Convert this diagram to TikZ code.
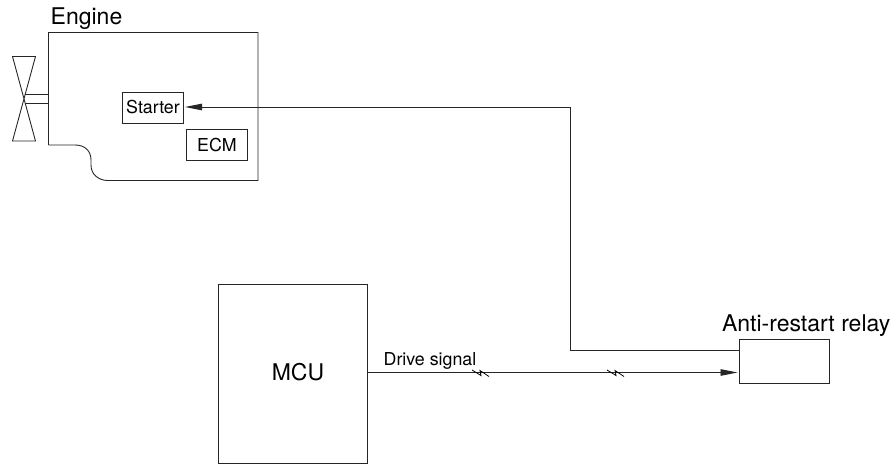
\documentclass[tikz,border=0pt]{standalone}
\usepackage{fontspec}
\setmainfont{TeX Gyre Heros}
\usetikzlibrary{arrows.meta}
\tikzset{
  ln/.style={draw=black!85,line width=0.9pt},
  box/.style={ln,anchor=north west,inner sep=0pt,outer sep=0pt},
  big/.style={font=\fontsize{23}{23}\selectfont,inner sep=0pt},
  small/.style={font=\fontsize{17.8}{18}\selectfont,inner sep=0pt},
  head/.style={-{Triangle[length=17pt,width=6.5pt]},shorten >=1.5pt}
}
\begin{document}
\begin{tikzpicture}[x=1pt,y=-1pt]
\useasboundingbox (0,0) rectangle (896,464);
% engine outline
\draw[ln] (48.5,145) -- (48.5,32.5) -- (258,32.5) -- (258,180.5) -- (108,180.5)
  .. controls (98,180.5) and (91,174) .. (91,165) -- (91,160)
  .. controls (91,151) and (85,145) .. (75,145) -- (48.5,145);
\node[big,anchor=base west] (engine) at (50.5,24) {Engine};
% fan
\coordinate (fa) at (12.5,56.5);
\coordinate (fb) at (35.5,56.5);
\coordinate (fc) at (12.5,141);
\coordinate (fd) at (35.5,141);
\draw[ln] (fa) -- (fb) -- (fc) -- (fd) -- cycle;
\draw[ln] (24.5,94) -- (48.5,94) (24.5,103) -- (48.5,103);
% boxes
\node[box,minimum width=61pt,minimum height=31pt,small] (starter) at (122.5,92) {Starter};
\node[box,minimum width=61pt,minimum height=31pt,small] (ecm) at (186.5,129.5) {ECM};
\node[box,minimum width=148.5pt,minimum height=179pt] (mcu) at (218.5,284) {};
\node[big] (mculabel) at (298,372.5) {MCU};
\node[box,minimum width=90pt,minimum height=44.5pt] (relay) at (739,339) {};
\node[big,anchor=base east] (relaylabel) at (890.5,331) {Anti-restart relay};
\node[small,anchor=base west] (drive) at (383.5,365) {Drive signal};
% connectors
\coordinate (corner1) at (570.5,107);
\coordinate (corner2) at (570.5,350.5);
\coordinate (rl) at (relay.west |- corner2);
\draw[ln,head] (rl) -- (corner2) -- (corner1) -- (starter.east |- corner1);
\coordinate (a1) at (mcu.east |- 0,372.5);
\coordinate (a2) at (relay.west |- 0,372.5);
\draw[ln,head] (a1) -- (a2);
% break marks
\draw[line width=0.8pt,black] (472,370) -- (481,375.5) -- (480,370.5) -- (489,376.5);
\draw[line width=0.8pt,black] (607,370) -- (616,375.5) -- (615,370.5) -- (624,376.5);
\end{tikzpicture}
\end{document}
